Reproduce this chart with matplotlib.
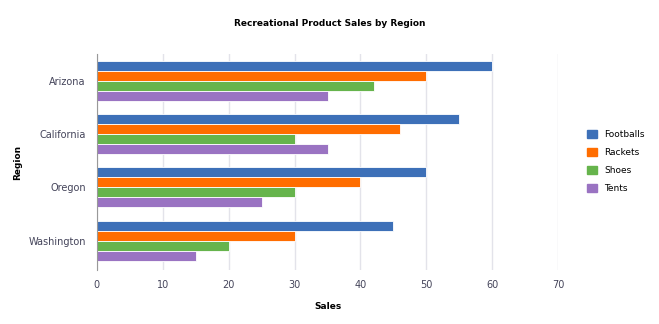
import matplotlib.pyplot as plt
import numpy as np
from matplotlib.patches import Patch

# data
regions = ['Arizona', 'California', 'Oregon', 'Washington']
products = ['Footballs', 'Rackets', 'Shoes', 'Tents']
footballs = [60, 55, 50, 45]
rackets = [50, 46, 40, 30]
shoes = [42, 30, 30, 20]
tents = [35, 35, 25, 15]
colors = ['#3d70b8', '#ff6d00', '#66b44c', '#9a73c2']

series = [footballs, rackets, shoes, tents]

fig = plt.figure(figsize=(6.59, 3.24), dpi=100)
ax = fig.add_axes([0.147, 0.167, 0.7, 0.666])

y = np.arange(len(regions))
h = 0.1875
for i, (vals, c) in enumerate(zip(series, colors)):
    ax.barh(y - 0.375 + h * (i + 0.5), vals, height=h, color=c,
            edgecolor='white', linewidth=0.6, zorder=3)

ax.set_xlim(0, 70)
ax.set_ylim(3.55, -0.5)
ax.set_yticks(y)
ax.set_yticklabels(regions)
ax.set_xticks(range(0, 71, 10))
ax.grid(axis='x', color='#e3e3ea', linewidth=1, zorder=0)
for s in ['top', 'right', 'bottom']:
    ax.spines[s].set_visible(False)
ax.spines['left'].set_color('#999999')
ax.spines['left'].set_zorder(5)
ax.tick_params(length=0, labelsize=7, labelcolor='#44445a')
ax.tick_params(axis='x', pad=7)
ax.tick_params(axis='y', pad=8)

ax.set_xlabel('Sales', fontsize=6.5, fontweight='bold', labelpad=9)
ax.set_ylabel('Region', fontsize=6.5, fontweight='bold')
ax.yaxis.set_label_coords(-0.161, 0.5)
fig.text(0.5, 0.928, 'Recreational Product Sales by Region', ha='center',
         va='center', fontsize=6.5, fontweight='bold')

handles = [Patch(color=c, label=p) for p, c in zip(products, colors)]
fig.legend(handles=handles, loc='upper left', bbox_to_anchor=(0.878, 0.625),
           frameon=False, fontsize=6.5, handlelength=1.1, handleheight=1.1,
           handletextpad=0.8, labelspacing=0.95)

plt.savefig('out.png', dpi=100)
